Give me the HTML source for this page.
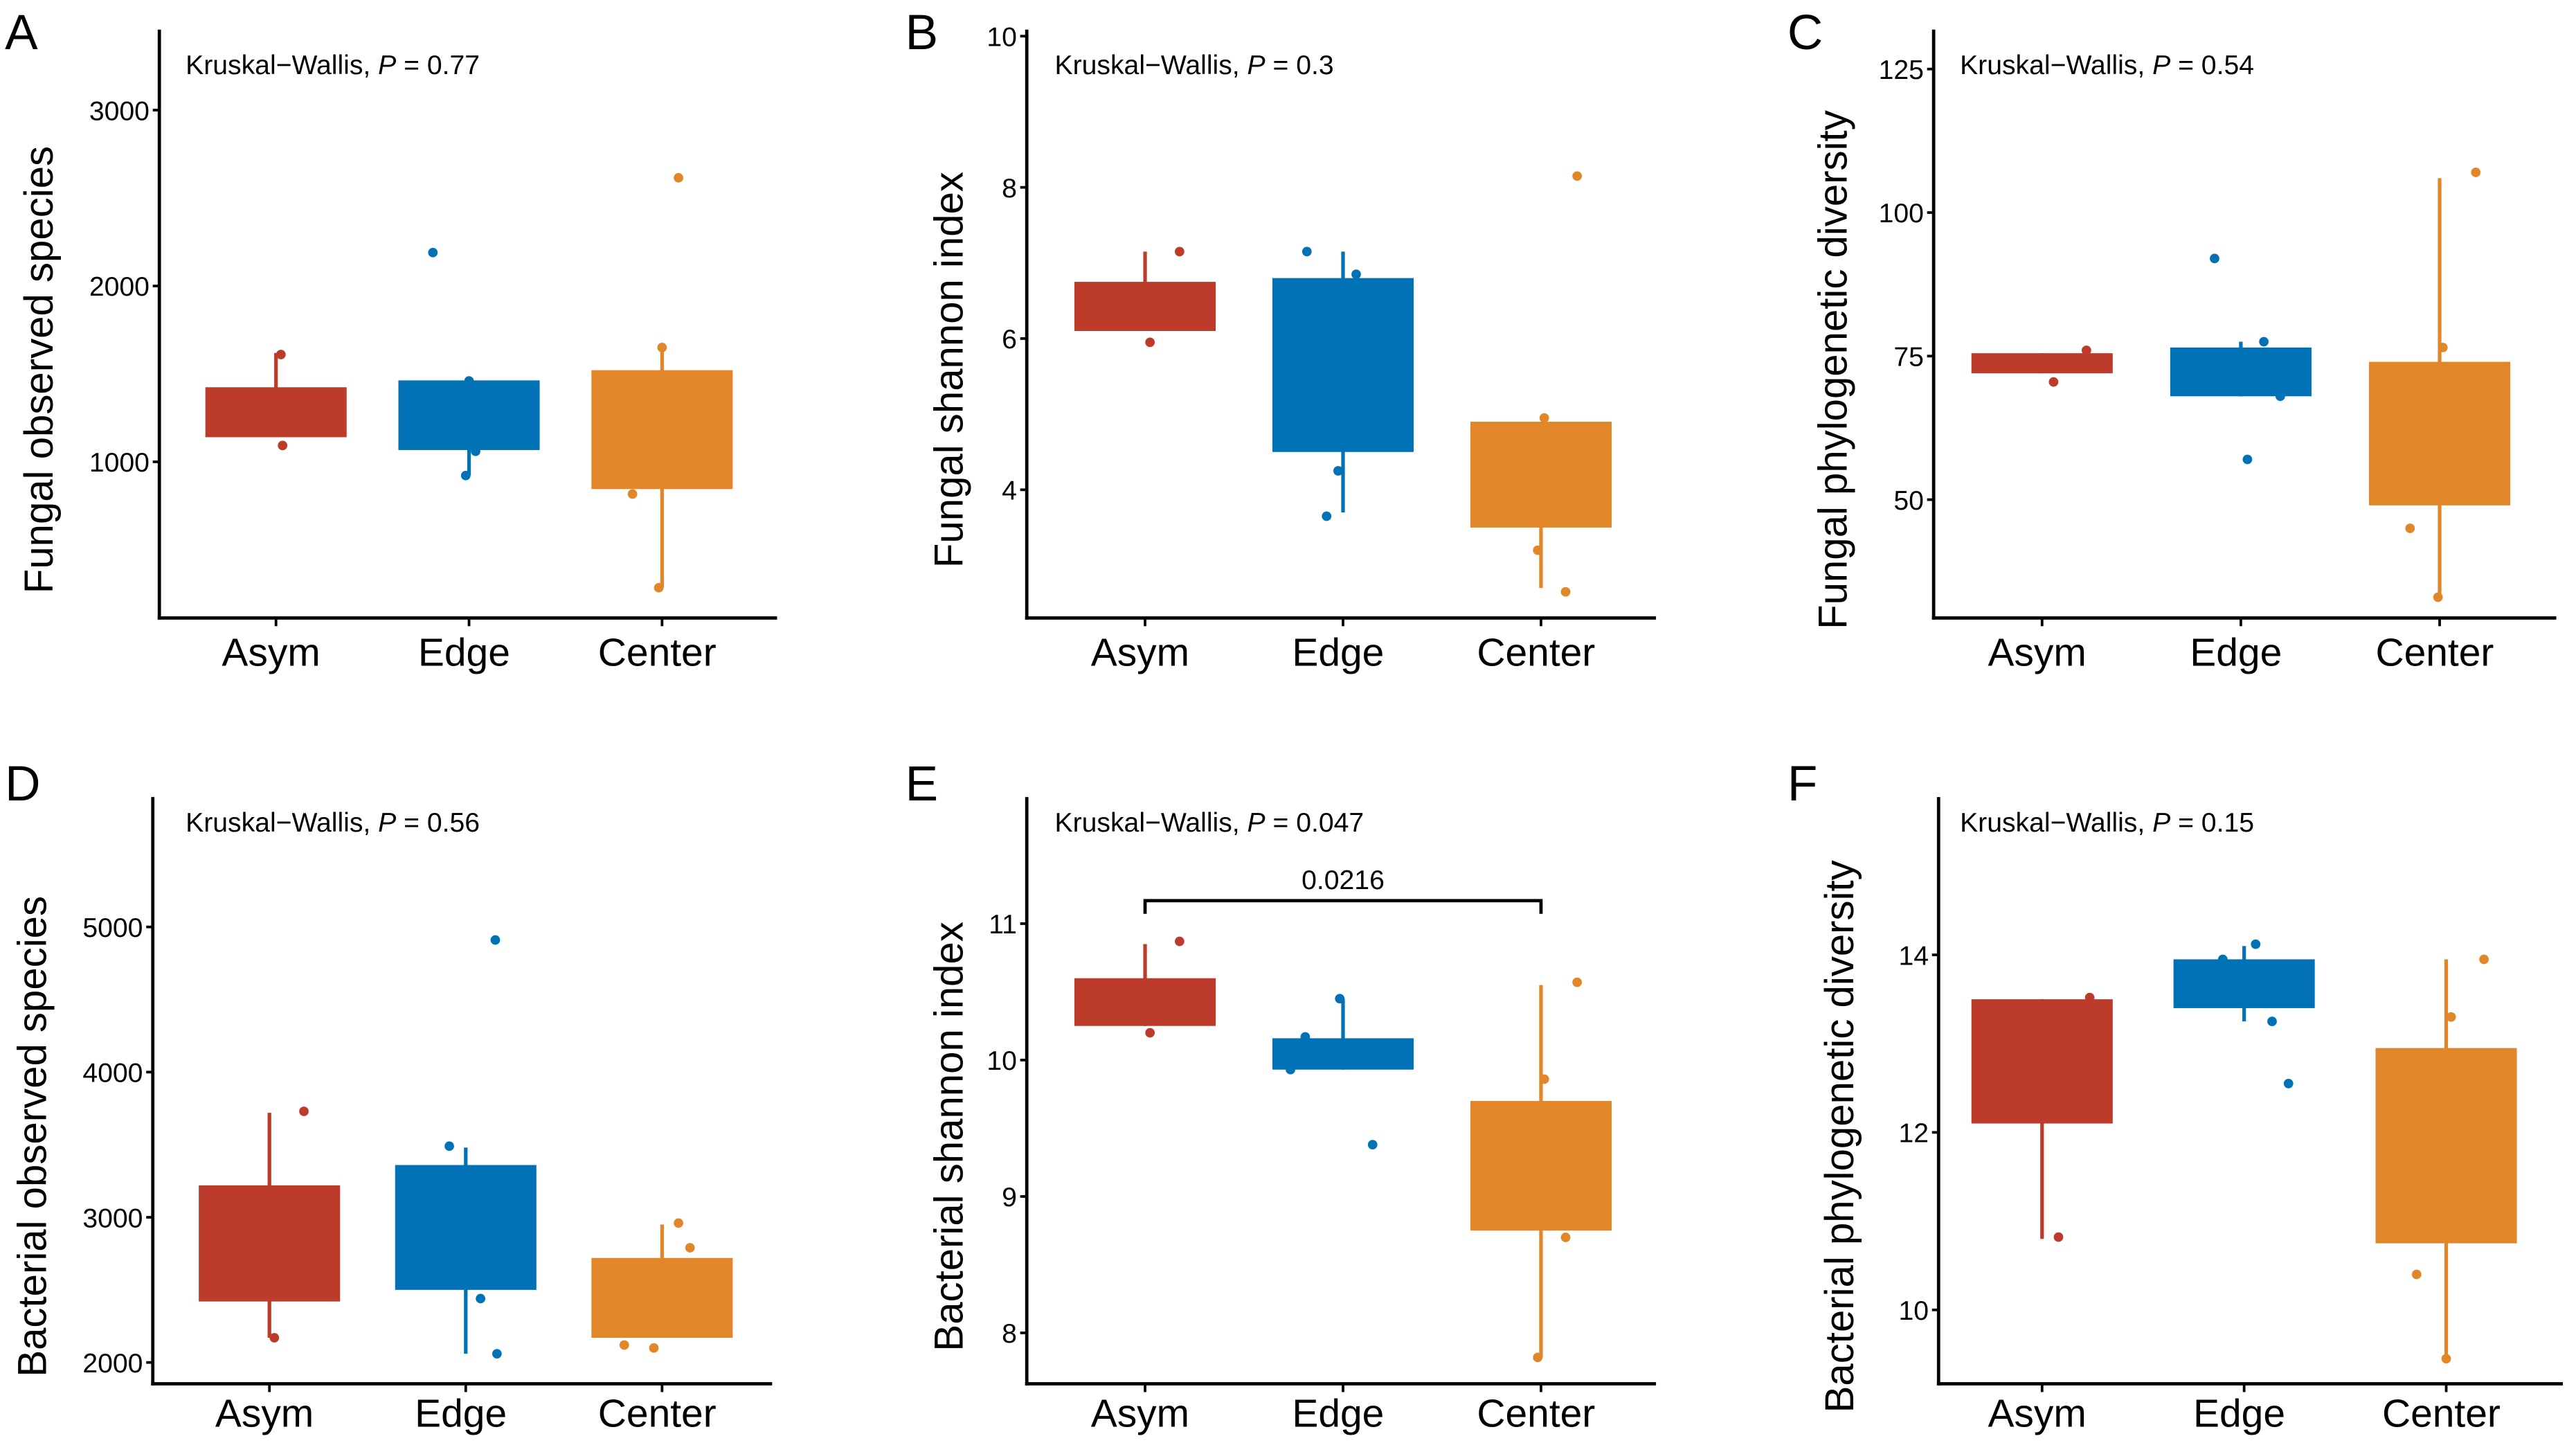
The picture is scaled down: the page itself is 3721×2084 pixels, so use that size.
<!DOCTYPE html>
<html><head><meta charset="utf-8">
<style>
html,body{margin:0;padding:0;background:#fff;}
svg{display:block;font-family:"Liberation Sans",Arial,sans-serif;}
</style></head>
<body>
<svg id="fig" width="3721" height="2084" viewBox="0 0 1568 878" preserveAspectRatio="none" xmlns="http://www.w3.org/2000/svg"></svg>
<script>
const categories = ["Asym","Edge","Center"];
const colors = ["#BD3B2A","#0172B5","#E1872A"];

// Panel A: Fungal observed species
const aBoxLow = [1140,1067,845];
const aBoxHigh = [1424,1463,1521];
const aWhiskLow = [1140,922,284];
const aWhiskHigh = [1619,1463,1650];
const aPoints = [[1610,1093],[2190,1460,1060,922],[2615,1650,817,284]];
const aTicks = [1000,2000,3000];

// Panel B: Fungal shannon index
const bBoxLow = [6.1,4.5,3.5];
const bBoxHigh = [6.75,6.8,4.9];
const bWhiskLow = [6.1,3.7,2.7];
const bWhiskHigh = [7.15,7.15,4.9];
const bPoints = [[7.15,5.95],[7.15,6.85,4.25,3.65],[8.15,4.95,3.2,2.65]];
const bTicks = [4,6,8,10];

// Panel C: Fungal phylogenetic diversity
const cBoxLow = [72,68,49];
const cBoxHigh = [75.5,76.5,74];
const cWhiskLow = [72,68,33];
const cWhiskHigh = [75.5,77.5,106];
const cPoints = [[76,70.5],[92,77.5,68,57],[107,76.5,45,33]];
const cTicks = [50,75,100,125];

// Panel D: Bacterial observed species
const dBoxLow = [2420,2500,2170];
const dBoxHigh = [3220,3360,2720];
const dWhiskLow = [2170,2060,2170];
const dWhiskHigh = [3720,3480,2950];
const dPoints = [[3730,2170],[4910,3490,2440,2060],[2960,2790,2120,2100]];
const dTicks = [2000,3000,4000,5000];

// Panel E: Bacterial shannon index
const eBoxLow = [10.25,9.93,8.75];
const eBoxHigh = [10.6,10.16,9.7];
const eWhiskLow = [10.25,9.93,7.82];
const eWhiskHigh = [10.85,10.45,10.55];
const ePoints = [[10.87,10.2],[10.45,10.17,9.93,9.38],[10.57,9.86,8.7,7.82]];
const eTicks = [8,9,10,11];

// Panel F: Bacterial phylogenetic diversity
const fBoxLow = [12.1,13.4,10.75];
const fBoxHigh = [13.5,13.95,12.95];
const fWhiskLow = [10.8,13.25,9.45];
const fWhiskHigh = [13.5,14.1,13.95];
const fPoints = [[13.52,10.82],[14.12,13.95,13.25,12.55],[13.95,13.3,10.4,9.45]];
const fTicks = [10,12,14];

const pValues = ["0.77","0.3","0.54","0.56","0.047","0.15"];
const yTitles = ["Fungal observed species","Fungal shannon index","Fungal phylogenetic diversity","Bacterial observed species","Bacterial shannon index","Bacterial phylogenetic diversity"];
const letters = ["A","B","C","D","E","F"];

const svg = document.getElementById('fig');
const NS = "http://www.w3.org/2000/svg";
function mk(tag, attrs, parent){
  const e = document.createElementNS(NS, tag);
  for (const k in attrs) e.setAttribute(k, attrs[k]);
  (parent||svg).appendChild(e);
  return e;
}

const layouts = [
  {x0:97, top:18, bot:376, right:473, v1:1000,p1:281, v2:3000,p2:67, cx0:168, step:117.5, tx:24, lx:3, ly:30, ay:45, ax:113, xl:405, jit:[[3,4],[-22,0,4,-2],[10,0,-18,-2]]},
  {x0:625, top:18, bot:376, right:1008, v1:4,p1:298, v2:10,p2:22, cx0:697, step:120.5, tx:578, lx:551, ly:30, ay:45, ax:642, xl:405, jit:[[21,3],[-22,8,-3,-10],[22,2,-2,15]]},
  {x0:1177, top:18, bot:376, right:1556, v1:50,p1:304, v2:125,p2:42, cx0:1243, step:121, tx:1116, lx:1088, ly:30, ay:45, ax:1193, xl:405, jit:[[27,7],[-16,14,24,4],[22,2,-18,-1]]},
  {x0:93, top:485, bot:842, right:470, v1:2000,p1:829, v2:5000,p2:564, cx0:164, step:119.5, tx:20, lx:3, ly:487, ay:506, ax:113, xl:868, jit:[[21,3],[18,-10,9,19],[10,17,-23,-5]]},
  {x0:625, top:485, bot:842, right:1008, v1:8,p1:811, v2:11,p2:562, cx0:697, step:120.5, tx:578, lx:551, ly:487, ay:506, ax:642, xl:868, jit:[[21,3],[-2,-23,-32,18],[22,2,15,-2]]},
  {x0:1180, top:485, bot:842, right:1560, v1:10,p1:797, v2:14,p2:581, cx0:1243, step:123, tx:1120, lx:1088, ly:487, ay:506, ax:1193, xl:868, jit:[[29,10],[7,-13,17,27],[23,3,-18,0]]}
];
const data = [
  [aBoxLow,aBoxHigh,aWhiskLow,aWhiskHigh,aPoints,aTicks],
  [bBoxLow,bBoxHigh,bWhiskLow,bWhiskHigh,bPoints,bTicks],
  [cBoxLow,cBoxHigh,cWhiskLow,cWhiskHigh,cPoints,cTicks],
  [dBoxLow,dBoxHigh,dWhiskLow,dWhiskHigh,dPoints,dTicks],
  [eBoxLow,eBoxHigh,eWhiskLow,eWhiskHigh,ePoints,eTicks],
  [fBoxLow,fBoxHigh,fWhiskLow,fWhiskHigh,fPoints,fTicks]
];

data.forEach((d, pi) => {
  const L = layouts[pi];
  const [bl, bh, wl, wh, pts, ticks] = d;
  const y = v => L.p1 + (v - L.v1) * (L.p2 - L.p1) / (L.v2 - L.v1);
  const x = i => L.cx0 + i * L.step;
  const g = mk('g', {});
  
  

  const lt = mk('text', {x:L.lx, y:L.ly, 'font-size':30, fill:'#000'}, g);
  lt.textContent = letters[pi];
  
  

  categories.forEach((c, i) => {
    const cx = x(i);
    const wk = mk('line', {x1:cx, x2:cx, y1:y(wh[i]), y2:y(wl[i]), stroke:colors[i], 'stroke-width':2.2}, g);
    
    
    const top = y(bh[i]), bottom = y(bl[i]);
    const bx = mk('rect', {x:cx-43, y:top, width:86, height:bottom-top, fill:colors[i]}, g);
    
    
    pts[i].forEach((v, k) => {
      const j = (L.jit[i] && L.jit[i][k] !== undefined) ? L.jit[i][k] : 0;
      const p = mk('circle', {cx:cx + j, cy:y(v), r:2.9, fill:colors[i]}, g);
      
      
    });
  });

  const ya = mk('line', {x1:L.x0, x2:L.x0, y1:L.top, y2:L.bot+1, stroke:'#000', 'stroke-width':2}, g);
  
  
  const xa = mk('line', {x1:L.x0-1, x2:L.right, y1:L.bot, y2:L.bot, stroke:'#000', 'stroke-width':2}, g);
  
  

  ticks.forEach(t => {
    const ty = y(t);
    const tk = mk('line', {x1:L.x0-4, x2:L.x0, y1:ty, y2:ty, stroke:'#000', 'stroke-width':1.6}, g);
    
    
    const tl = mk('text', {x:L.x0-6, y:ty+6, 'font-size':16.5, 'text-anchor':'end', fill:'#000'}, g);
    tl.textContent = t;
    
    
  });
  categories.forEach((c, i) => {
    const cx = x(i);
    const tk = mk('line', {x1:cx, x2:cx, y1:L.bot, y2:L.bot+5, stroke:'#000', 'stroke-width':1.6}, g);
    
    
    const tl = mk('text', {x:cx-3, y:L.xl, 'font-size':24, 'text-anchor':'middle', fill:'#000'}, g);
    tl.textContent = c;
    
    
  });

  const midY = (L.top + L.bot) / 2 + 20;
  const yt = mk('text', {x:L.tx, y:midY, 'font-size':24.5, 'text-anchor':'middle', fill:'#000', transform:'rotate(-90 '+(L.tx+8)+' '+midY+')'}, g);
  yt.textContent = yTitles[pi];
  
  

  const an = mk('text', {x:L.ax, y:L.ay, 'font-size':16.5, fill:'#000'}, g);
  an.innerHTML = 'Kruskal\u2212Wallis, <tspan font-style="italic">P</tspan> = ' + pValues[pi];
  
  

  if (pi === 4) {
    const by = 548;
    const br = mk('path', {d:'M'+x(0)+' '+(by+8)+' V'+by+' H'+x(2)+' V'+(by+8), fill:'none', stroke:'#000', 'stroke-width':2}, g);
    
    
    const bt = mk('text', {x:(x(0)+x(2))/2, y:by-7, 'font-size':16.5, 'text-anchor':'middle', fill:'#000'}, g);
    bt.textContent = '0.0216';
    
    
  }
});
</script>
</body></html>
